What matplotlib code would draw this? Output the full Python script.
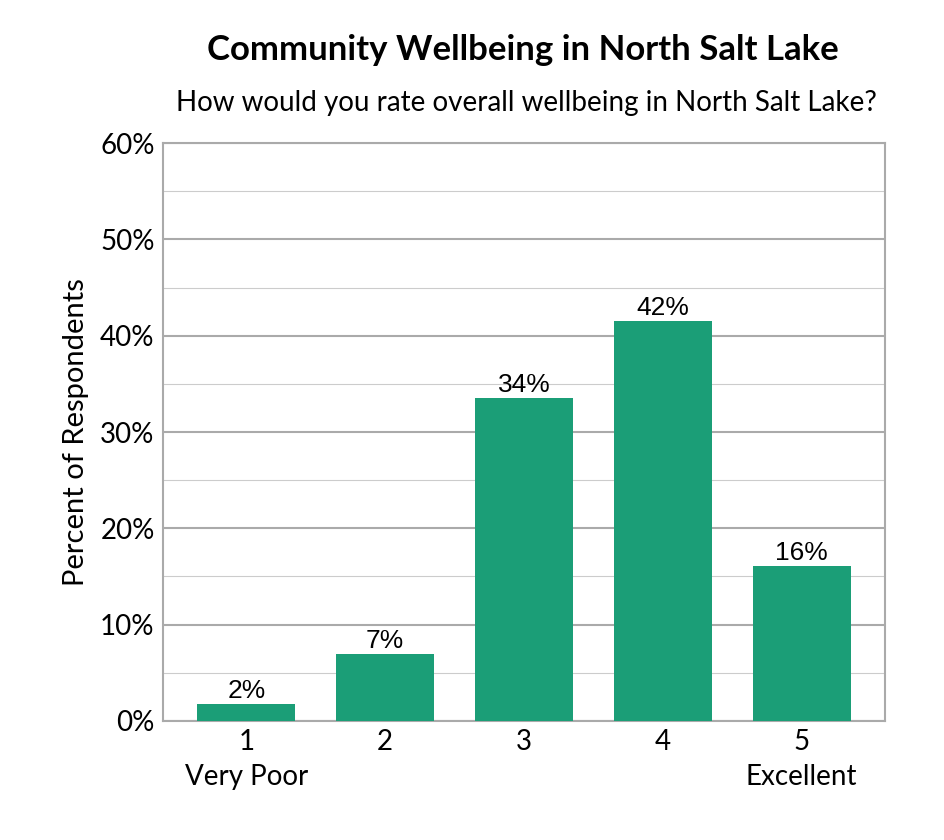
import matplotlib
matplotlib.use("Agg")
import matplotlib.pyplot as plt
from matplotlib.ticker import MultipleLocator

categories = ["1\nVery Poor", "2", "3", "4", "5\nExcellent"]
values = [1.8, 7.0, 33.5, 41.5, 16.1]
labels = ["2%", "7%", "34%", "42%", "16%"]
yticks = [0, 10, 20, 30, 40, 50, 60]

fig = plt.figure(figsize=(9.45, 8.4), dpi=100)
ax = fig.add_axes([0.1725, 0.1417, 0.764, 0.688])
x = list(range(len(values)))
ax.bar(x, values, width=0.706, color="#1b9e77", zorder=3)
for xi, v, l in zip(x, values, labels):
    ax.text(xi, v + 0.1, l, ha="center", va="bottom", fontsize=19, family="Liberation Sans")
ax.set_xlim(-0.6, 4.6)
ax.set_ylim(0, 60)
ax.set_yticks(yticks)
ax.set_yticklabels([f"{t}%" for t in yticks], fontsize=20, family="Lato")
ax.yaxis.set_minor_locator(MultipleLocator(5))
ax.grid(axis="y", which="major", color="#aaaaaa", linewidth=1.5, zorder=0)
ax.grid(axis="y", which="minor", color="#cccccc", linewidth=0.8, zorder=0)
ax.set_xticks(x)
ax.set_xticklabels(categories, fontsize=20, family="Lato", linespacing=1.4)
ax.tick_params(which="both", length=0, pad=6)
for s in ax.spines.values():
    s.set_color("#aaaaaa")
    s.set_linewidth(1.5)
ax.set_ylabel("Percent of Respondents", fontsize=21, family="Lato", labelpad=8)
fig.text(0.553, 0.94, "Community Wellbeing in North Salt Lake", ha="center", va="center",
         fontsize=25, fontweight="bold", family="Lato")
fig.text(0.557, 0.877, "How would you rate overall wellbeing in North Salt Lake?", ha="center",
         va="center", fontsize=20, family="Lato")
fig.savefig("out.png", dpi=100)
